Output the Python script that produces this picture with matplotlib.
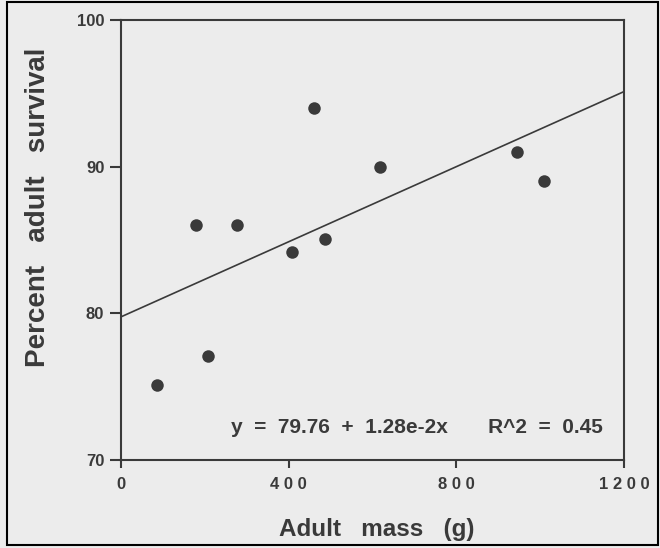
import matplotlib
matplotlib.use("Agg")
import matplotlib.pyplot as plt
import numpy as np
from matplotlib.patches import Rectangle

plt.rcParams['font.family'] = ['Liberation Sans', 'DejaVu Sans']

# data
mass = [87, 180, 207, 276, 407, 460, 486, 618, 945, 1008]
survival = [75.1, 86.0, 77.1, 86.0, 84.2, 94.0, 85.1, 90.0, 91.0, 89.0]
intercept = 79.76
slope = 1.28e-2
fit_x = [0, 1200]
xticks = [0, 400, 800, 1200]
yticks = [70, 80, 90, 100]
equation = "y  =  79.76  +  1.28e-2x       R^2  =  0.45"

paper = "#ececec"
ink = "#3a3a3a"

fig = plt.figure(figsize=(6.6, 5.48), dpi=100, facecolor=paper)
ax = fig.add_axes([121/660, 1-460/548, 503/660, 440/548])
ax.set_facecolor(paper)

ax.plot(mass, survival, 'o', color=ink, markersize=9, markeredgewidth=0, zorder=3)
fx = np.array(fit_x)
ax.plot(fx, intercept + slope*fx, color=ink, lw=1.2, solid_capstyle='butt')

ax.set_xlim(0, 1200)
ax.set_ylim(70, 100)
ax.set_xticks(xticks)
ax.set_xticklabels([" ".join(str(t)) for t in xticks])
ax.set_yticks(yticks)
for s in ax.spines.values():
    s.set_color(ink)
    s.set_linewidth(1.5)
ax.tick_params(axis='y', length=8, width=1.5, color=ink, pad=4,
               labelsize=12, labelcolor=ink)
ax.tick_params(axis='x', length=6, width=1.5, color=ink, pad=6,
               labelsize=12, labelcolor=ink)
for lab in ax.get_xticklabels() + ax.get_yticklabels():
    lab.set_fontweight('bold')

ax.set_xlabel("Adult   mass   (g)", fontsize=17.5, fontweight='bold', color=ink, va='center')
ax.xaxis.set_label_coords(0.508, -0.159)
ax.set_ylabel("Percent   adult   survival", fontsize=20, fontweight='bold', color=ink,
              rotation=90, va='center')
ax.yaxis.set_label_coords(-0.166, 0.575)

ax.text(1150, 72.25, equation, ha='right', va='center', fontsize=15,
        fontweight='bold', color=ink)

fig.patches.append(Rectangle((7/660, 3/548), 651/660, 543/548, transform=fig.transFigure,
                             fill=False, edgecolor='black', lw=1.5))

fig.savefig("out.png", dpi=100, facecolor=paper)
